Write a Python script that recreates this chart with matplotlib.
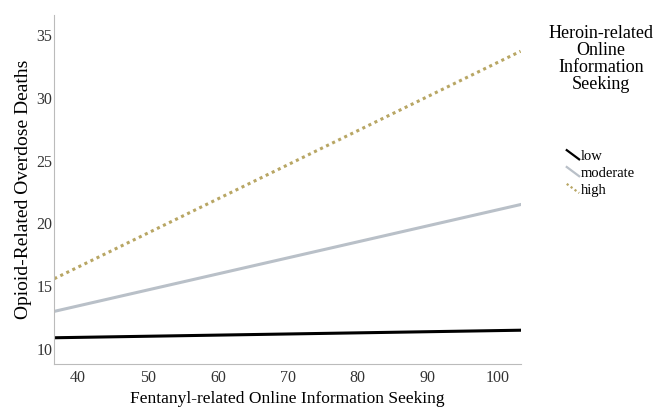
import matplotlib.pyplot as plt
from matplotlib.legend_handler import HandlerLine2D
from matplotlib.lines import Line2D

# x range of the fitted lines and the predicted deaths at each end
fentanyl = [36.6, 103.3]
low = [10.9, 11.5]
moderate = [13.0, 21.5]
high = [15.6, 33.7]


class DiagonalHandler(HandlerLine2D):
    # short line going down to the right, like the SPSS legend keys
    def create_artists(self, legend, orig_handle, xdescent, ydescent,
                       width, height, fontsize, trans):
        line = Line2D([0, width], [height * 0.95, height * 0.05])
        self.update_prop(line, orig_handle, legend)
        line.set_linewidth(1.6)
        line.set_transform(trans)
        return [line]


plt.rcParams['font.family'] = ['Liberation Serif', 'DejaVu Serif']

fig = plt.figure(figsize=(6.54, 4.11), dpi=100)
ax = fig.add_axes([0.083, 0.114, 0.713, 0.85])

ax.plot(fentanyl, low, color='black', lw=2.2, label='low')
ax.plot(fentanyl, moderate, color='#b9c0c8', lw=2.2, label='moderate')
ax.plot(fentanyl, high, color='#b8a664', lw=2.2, ls=(0, (1, 1.2)), label='high')

ax.set_xlim(36.6, 103.3)
ax.set_ylim(8.8, 36.6)
ax.set_xticks([40, 50, 60, 70, 80, 90, 100])
ax.set_yticks([10, 15, 20, 25, 30, 35])
ax.tick_params(length=0, labelsize=11.5, colors='#333333')
ax.tick_params(axis='x', pad=4.5)
ax.tick_params(axis='y', pad=1.5)

for s in ['top', 'right']:
    ax.spines[s].set_visible(False)
for s in ['left', 'bottom']:
    ax.spines[s].set_color('#bbbbbb')

ax.set_xlabel('Fentanyl-related Online Information Seeking', fontsize=12.5, labelpad=3)
ax.set_ylabel('Opioid-Related Overdose Deaths', fontsize=14, labelpad=3)

fig.text(0.919, 0.94, 'Heroin-related\nOnline\nInformation\nSeeking',
         ha='center', va='top', fontsize=13, linespacing=1.0)
handles, labels = ax.get_legend_handles_labels()
ax.legend(handles, labels, loc='upper left', bbox_to_anchor=(1.099, 0.614),
          frameon=False, fontsize=10.5, handlelength=0.85, handletextpad=0.1,
          labelspacing=0.25, borderaxespad=0, borderpad=0,
          handler_map={Line2D: DiagonalHandler()})

plt.savefig('out.png', dpi=100)
